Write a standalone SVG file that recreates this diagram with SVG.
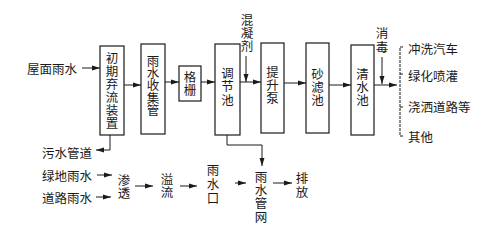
<svg xmlns="http://www.w3.org/2000/svg" width="496" height="239" viewBox="0 0 496 239">
<defs>
<marker id="ah" viewBox="0 0 8 6" refX="8" refY="3" markerWidth="8" markerHeight="6" markerUnits="userSpaceOnUse" orient="auto">
<path d="M0,0.5 L8,3 L0,5.5 z" fill="#1a1a1a"/>
</marker>
</defs>
<style>
text{font-family:"Noto Sans CJK SC","Noto Sans",sans-serif;font-size:12.5px;fill:#1a1a1a;dominant-baseline:central;text-anchor:middle}
.l{text-anchor:start}
.v{writing-mode:vertical-rl;text-anchor:start;letter-spacing:0.5px}
.box{fill:#fff;stroke:#1a1a1a;stroke-width:1.2}
.c{fill:none;stroke:#1a1a1a;stroke-width:1}
.a{fill:none;stroke:#1a1a1a;stroke-width:1;marker-end:url(#ah)}
</style>
<rect width="496" height="239" fill="#fff"/>
<g id="src_roof"><text class="l" x="27" y="68">屋面雨水</text></g>
<g id="n_chuqi"><rect class="box" x="100" y="46" width="24" height="89"/>
<text class="v" x="112" y="51.75">初期弃流装置</text></g>
<g id="n_shouji"><rect class="box" x="141" y="44" width="24" height="90"/>
<text class="v" x="153" y="54.75" style="letter-spacing:-0.2px">雨水收集管</text></g>
<g id="n_gezha"><rect class="box" x="179" y="66" width="22" height="35"/>
<text class="v" x="190" y="70.75">格栅</text></g>
<g id="n_tiaojie"><rect class="box" x="215" y="44" width="25" height="91"/>
<text class="v" x="227.5" y="66.75" style="letter-spacing:1px">调节池</text></g>
<g id="n_tisheng"><rect class="box" x="261" y="43" width="23" height="90"/>
<text class="v" x="272.5" y="65.75">提升泵</text></g>
<g id="n_shalv"><rect class="box" x="306" y="43" width="23" height="90"/>
<text class="v" x="317.5" y="67.75">砂滤池</text></g>
<g id="n_qingshui"><rect class="box" x="351" y="45" width="23" height="90"/>
<text class="v" x="362.5" y="67.75">清水池</text></g>
<g id="lbl_hunning"><text class="v" x="247" y="13.75">混凝剂</text></g>
<g id="lbl_xiaodu"><text class="v" x="382" y="26.75" style="letter-spacing:1.5px">消毒</text></g>
<g id="uses">
<text class="l" x="408" y="48">冲洗汽车</text>
<text class="l" x="408" y="75">绿化喷灌</text>
<text class="l" x="408" y="106">浇洒道路等</text>
<text class="l" x="408" y="136">其他</text>
</g>
<g id="n_wushui"><text class="l" x="42" y="152">污水管道</text></g>
<g id="src_lvdi"><text class="l" x="42" y="175">绿地雨水</text></g>
<g id="src_daolu"><text class="l" x="42" y="197">道路雨水</text></g>
<g id="n_shentou"><text class="v" x="124" y="173.75">渗透</text></g>
<g id="n_yiliu"><text class="v" x="167" y="172.75">溢流</text></g>
<g id="n_yushuikou"><text class="v" x="213" y="163.75" style="letter-spacing:1.5px">雨水口</text></g>
<g id="n_guanwang"><text class="v" x="261" y="170.75" style="letter-spacing:0.8px">雨水管网</text></g>
<g id="n_paifang"><text class="v" x="302" y="171.75" style="letter-spacing:1.5px">排放</text></g>
<g id="connectors">
<path class="a" d="M82,68 H100"/>
<path class="a" d="M124,85 H141"/>
<path class="a" d="M165,82 H179"/>
<path class="a" d="M201,82 H215"/>
<path class="a" d="M240,82 H261"/>
<path class="a" d="M246,56 V82"/>
<path class="a" d="M284,83 H306"/>
<path class="a" d="M329,85 H351"/>
<path class="a" d="M374,85 H397"/>
<path class="a" d="M382,57 V84"/>
<path class="c" d="M403,47 H400 V136 H403 M400,74 H403 M400,107 H403" stroke-dasharray="3,1"/>
<path class="a" d="M110,135 V150 H96"/>
<path class="a" d="M227,135 V145 H262 V166"/>
<path class="a" d="M97,175 H112"/>
<path class="a" d="M96,197 H111"/>
<path class="a" d="M135,186 H153"/>
<path class="a" d="M180,186 H197"/>
<path class="a" d="M235,183 H246"/>
<path class="a" d="M273,183 H292"/>
</g>
</svg>
